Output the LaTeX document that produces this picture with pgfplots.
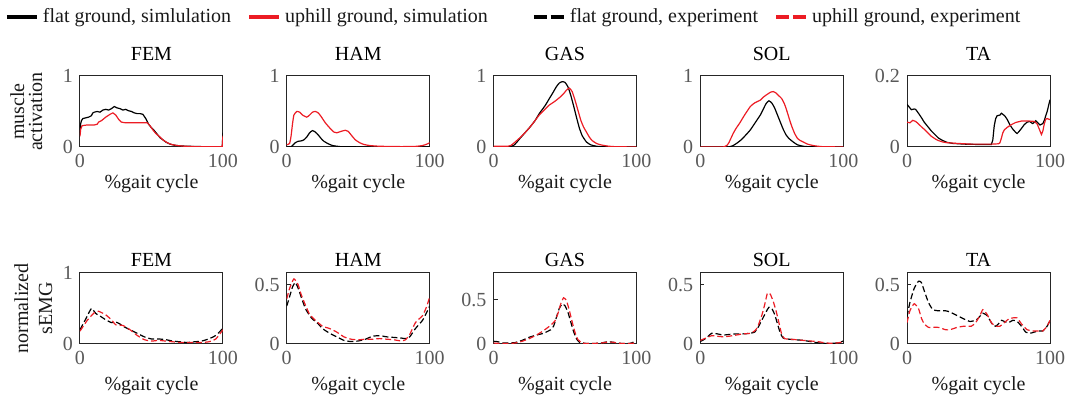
\documentclass[border=0pt]{standalone}
\usepackage{fontspec}
\setmainfont{Liberation Serif}
\usepackage{pgfplots}
\pgfplotsset{compat=1.18}
\usepgfplotslibrary{groupplots}
\definecolor{myred}{RGB}{236,28,36}

\pgfplotsset{
  gait/.style={
    width=71.5pt, height=35.5pt, scale only axis,
    xmin=0, xmax=100, ymin=0, xtick={0,100},
    tick align=inside, tick pos=left, major tick length=2pt,
    axis line style={black!85, line width=0.5pt},
    major tick style={black!85, line width=0.5pt},
    /pgf/number format/assume math mode=true,
    ticklabel style={font=\rmfamily, text=black!65},
    label style={text=black!90},
    title style={text=black},
    xlabel={\%gait cycle},
  },
  % the default title style already shifts up by 6pt
  row1/.style={
    title style={at={(0.5,1)}, anchor=base, yshift=1.6pt},
    xlabel style={at={(0.5,-0.58)}, anchor=base},
    ylabel style={at={(-0.26,0.5)}, anchor=south, inner sep=0pt, align=center},
  },
  row2/.style={
    title style={at={(0.5,1)}, anchor=base, yshift=-2.7pt},
    xlabel style={at={(0.5,-0.66)}, anchor=base},
    ylabel style={at={(-0.19,0.5)}, anchor=south, inner sep=0pt, align=center},
  },
  sim/.style={line width=0.6pt},
  expd/.style={line width=0.6pt, dash pattern=on 3pt off 1.5pt},
}

\begin{document}
\begin{tikzpicture}
\begin{groupplot}[
  group style={group size=5 by 2, horizontal sep=31.9pt, vertical sep=63pt},
  gait,
]
% ---------- row 1: simulated muscle activation ----------
\nextgroupplot[row1, title={FEM}, ymax=1, ytick={0,1},
  ylabel={muscle\\[-3pt]activation},
  legend columns=4,
  legend style={at={(-0.525,1.831)}, anchor=west, draw=none, fill=none,
    inner sep=0pt, outer sep=0pt, text=black!90,
    /tikz/every even column/.append style={column sep=6pt}},
  legend image code/.code={\draw[#1, line width=2pt] (0pt,0pt) -- (15pt,0pt);},
]
\addlegendimage{black, solid}
\addlegendimage{myred, solid}
\addlegendimage{black, dash pattern=on 6.6pt off 1.8pt}
\addlegendimage{myred, dash pattern=on 6.6pt off 1.8pt}
\legend{{flat ground, simlulation}, {uphill ground, simulation\hspace{14pt}\mbox{}}, {flat ground, experiment}, {uphill ground, experiment}}
\addplot[sim, black] coordinates {(0,0.2)(0.5,0.33)(1,0.37)(2,0.4)(4,0.41)(6,0.42)(8,0.44)(9,0.48)(10,0.49)(12,0.5)(14,0.49)(16,0.52)(18,0.53)(20,0.52)(22,0.54)(24,0.57)(26,0.55)(28,0.54)(30,0.52)(32,0.53)(34,0.51)(36,0.5)(38,0.48)(40,0.47)(42,0.47)(44,0.46)(46,0.4)(48,0.32)(50,0.27)(52,0.23)(54,0.18)(56,0.13)(58,0.1)(60,0.07)(63,0.04)(66,0.025)(70,0.015)(75,0.01)(85,0.005)(99.5,0.005)(100,0.2)};
\addplot[sim, myred] coordinates {(0,0.15)(0.5,0.25)(1.5,0.3)(5,0.31)(10,0.31)(12,0.32)(13,0.35)(15,0.37)(18,0.42)(21,0.46)(23,0.48)(25,0.45)(27,0.39)(29,0.35)(32,0.34)(40,0.34)(47,0.34)(49,0.3)(51,0.24)(53,0.19)(56,0.14)(58,0.1)(61,0.06)(64,0.035)(68,0.02)(73,0.01)(80,0.005)(99.5,0.005)(100,0.16)};

\nextgroupplot[row1, title={HAM}, ymax=1, ytick={0,1}]
\addplot[sim, black, smooth, tension=0.3] coordinates {(0,0)(3,0)(4,0.02)(6,0.06)(8,0.08)(10,0.085)(12,0.1)(14,0.14)(16,0.2)(18,0.23)(20,0.21)(22,0.17)(24,0.12)(26,0.08)(29,0.045)(32,0.02)(36,0.008)(42,0.002)(100,0)};
\addplot[sim, myred, smooth, tension=0.3] coordinates {(0,0.03)(2,0.05)(3,0.15)(4,0.32)(5,0.45)(7,0.5)(9,0.49)(11,0.45)(14,0.42)(16,0.45)(18,0.49)(20,0.5)(22,0.48)(24,0.43)(27,0.34)(30,0.27)(33,0.21)(35,0.2)(38,0.22)(41,0.235)(43,0.22)(45,0.17)(48,0.1)(51,0.06)(54,0.035)(58,0.02)(65,0.01)(80,0.005)(90,0.008)(95,0.02)(98,0.04)(100,0.06)};

\nextgroupplot[row1, title={GAS}, ymax=1, ytick={0,1}]
\addplot[sim, black, smooth, tension=0.3] coordinates {(0,0)(8,0)(11,0.005)(14,0.02)(16,0.06)(18.5,0.12)(22,0.2)(25.5,0.28)(29,0.37)(32,0.47)(36,0.58)(39,0.68)(42,0.78)(44,0.85)(46,0.9)(48,0.92)(50,0.91)(52,0.85)(54,0.73)(56,0.58)(58,0.42)(60,0.27)(62,0.16)(65,0.07)(68,0.03)(72,0.01)(78,0.002)(100,0)};
\addplot[sim, myred, smooth, tension=0.3] coordinates {(0,0.01)(5,0.01)(10,0.01)(12,0.02)(14,0.05)(18.5,0.13)(22,0.2)(25.5,0.28)(29,0.37)(32,0.45)(36,0.53)(39,0.59)(42,0.63)(44,0.66)(47,0.71)(49,0.75)(51,0.8)(53,0.83)(55,0.78)(57,0.66)(59,0.52)(61,0.38)(63,0.28)(65,0.21)(67,0.14)(69,0.09)(72,0.05)(75,0.03)(80,0.012)(85,0.004)(100,0)};

\nextgroupplot[row1, title={SOL}, ymax=1, ytick={0,1}]
\addplot[sim, black, smooth, tension=0.3] coordinates {(0,0)(19,0)(21,0.005)(23,0.02)(25,0.045)(28,0.09)(31,0.15)(35,0.24)(39,0.36)(42,0.45)(44,0.53)(46,0.61)(48,0.65)(50,0.62)(52,0.55)(54,0.45)(56,0.35)(58,0.25)(60,0.17)(62,0.12)(65,0.07)(68,0.03)(72,0.01)(78,0.002)(100,0)};
\addplot[sim, myred, smooth, tension=0.3] coordinates {(0,0)(15,0)(17,0.005)(18.5,0.02)(20,0.06)(23,0.19)(25,0.26)(28,0.35)(31,0.45)(35,0.57)(38,0.62)(42,0.66)(44,0.7)(46,0.73)(49,0.77)(51,0.78)(53,0.76)(55,0.72)(57,0.68)(59,0.6)(61,0.48)(62.5,0.38)(64,0.29)(66,0.19)(68,0.12)(70,0.09)(72,0.07)(75,0.04)(79,0.02)(85,0.005)(100,0)};

\nextgroupplot[row1, title={TA}, ymax=0.2, ytick={0,0.2}]
\addplot[sim, black] coordinates {(0,0.12)(1,0.115)(2,0.11)(3,0.105)(5,0.107)(6,0.106)(8,0.095)(10,0.083)(12,0.07)(14,0.06)(17,0.045)(20,0.033)(22,0.025)(25,0.018)(28,0.013)(32,0.01)(40,0.008)(50,0.007)(59,0.007)(60,0.02)(61,0.06)(62,0.08)(63,0.088)(65,0.09)(66,0.095)(67,0.092)(68.5,0.087)(70,0.078)(72,0.062)(74,0.05)(76,0.041)(77,0.038)(78,0.042)(80,0.052)(82,0.063)(84,0.07)(86,0.072)(87,0.068)(88,0.066)(90,0.074)(91,0.07)(93,0.062)(95,0.066)(96,0.075)(98,0.1)(100,0.133)};
\addplot[sim, myred] coordinates {(0,0.07)(2,0.068)(4,0.075)(6,0.072)(8,0.065)(10,0.057)(12,0.05)(15,0.038)(17,0.03)(20,0.022)(22,0.018)(25,0.014)(28,0.012)(35,0.01)(45,0.008)(60,0.008)(64,0.009)(65,0.012)(66,0.025)(67,0.04)(68,0.048)(70,0.055)(73,0.063)(76,0.069)(80,0.073)(85,0.073)(89,0.072)(91,0.065)(92,0.055)(93,0.045)(94,0.035)(95,0.045)(96,0.065)(97,0.078)(98,0.08)(100,0.077)};

% ---------- row 2: normalized sEMG ----------
\nextgroupplot[row2, title={FEM}, ymax=1, ytick={0,1},
  ylabel={normalized\\sEMG}]
\addplot[expd, black, smooth, tension=0.3] coordinates {(0,0.2)(4,0.35)(8,0.5)(11,0.43)(15,0.38)(18,0.34)(22,0.3)(25,0.31)(28,0.28)(30,0.25)(35,0.2)(40,0.15)(45,0.1)(50,0.07)(55,0.07)(60,0.06)(65,0.04)(70,0.03)(75,0.02)(80,0.03)(85,0.04)(90,0.07)(95,0.12)(100,0.22)};
\addplot[expd, myred, smooth, tension=0.3] coordinates {(0,0.18)(5,0.33)(10,0.44)(13,0.46)(18,0.41)(22,0.34)(25,0.27)(30,0.26)(35,0.2)(40,0.12)(45,0.06)(50,0.04)(55,0.05)(60,0.04)(65,0.03)(70,0.02)(75,0.02)(80,0.02)(85,0.02)(90,0.03)(95,0.07)(100,0.2)};

\nextgroupplot[row2, title={HAM}, ymax=0.6, ytick={0,0.5}]
\addplot[expd, black, smooth, tension=0.3] coordinates {(0,0.32)(2,0.4)(4,0.48)(6,0.52)(8,0.47)(10,0.4)(13,0.3)(16,0.24)(18,0.21)(22,0.17)(25,0.13)(30,0.09)(35,0.06)(40,0.03)(45,0.02)(50,0.025)(55,0.04)(60,0.065)(65,0.07)(70,0.06)(75,0.055)(80,0.05)(83,0.045)(86,0.06)(90,0.13)(95,0.2)(98,0.27)(100,0.32)};
\addplot[expd, myred, smooth, tension=0.3] coordinates {(0,0.38)(2,0.47)(5,0.55)(8,0.5)(10,0.42)(13,0.33)(16,0.25)(20,0.2)(25,0.15)(30,0.13)(35,0.1)(40,0.06)(45,0.04)(50,0.035)(55,0.04)(60,0.04)(65,0.045)(70,0.04)(75,0.035)(80,0.025)(83,0.035)(86,0.08)(90,0.18)(95,0.24)(98,0.32)(100,0.4)};

\nextgroupplot[row2, title={GAS}, ymax=0.8, ytick={0,0.5}]
\addplot[expd, black, smooth, tension=0.3] coordinates {(0,0.03)(3,0.025)(6,0.01)(10,0.01)(15,0.015)(20,0.04)(25,0.075)(30,0.1)(35,0.12)(40,0.16)(42,0.2)(44,0.3)(46,0.4)(48,0.45)(50,0.43)(52,0.36)(54,0.25)(56,0.14)(58,0.06)(60,0.02)(65,0.005)(70,0.005)(75,0.01)(80,0.025)(83,0.02)(87,0.01)(90,0.005)(95,0.005)(98,0.02)(100,0.03)};
\addplot[expd, myred, smooth, tension=0.3] coordinates {(0,0.01)(5,0.005)(10,0.005)(15,0.01)(20,0.03)(25,0.06)(30,0.1)(35,0.15)(40,0.21)(43,0.26)(45,0.34)(47,0.45)(49,0.52)(51,0.49)(53,0.38)(55,0.25)(57,0.13)(59,0.05)(62,0.01)(65,0.005)(70,0.005)(75,0.01)(80,0.02)(83,0.02)(87,0.01)(90,0.005)(95,0.005)(100,0.01)};

\nextgroupplot[row2, title={SOL}, ymax=0.6, ytick={0,0.5}]
\addplot[expd, black, smooth, tension=0.3] coordinates {(0,0.02)(3,0.04)(6,0.07)(8,0.09)(12,0.085)(16,0.075)(20,0.08)(25,0.085)(30,0.085)(35,0.09)(38,0.1)(40,0.13)(43,0.2)(46,0.27)(48,0.31)(50,0.3)(52,0.25)(54,0.17)(56,0.09)(58,0.05)(62,0.04)(67,0.035)(72,0.03)(77,0.02)(82,0.01)(87,0.005)(92,0.005)(97,0.01)(100,0.025)};
\addplot[expd, myred, smooth, tension=0.3] coordinates {(0,0.03)(4,0.05)(8,0.07)(12,0.065)(16,0.06)(20,0.065)(25,0.075)(30,0.085)(35,0.09)(38,0.11)(40,0.14)(43,0.24)(45,0.33)(47,0.43)(49,0.42)(51,0.36)(53,0.28)(55,0.18)(57,0.08)(59,0.045)(63,0.04)(68,0.035)(72,0.03)(77,0.025)(82,0.02)(87,0.01)(92,0.005)(97,0.01)(100,0.02)};

\nextgroupplot[row2, title={TA}, ymax=0.6, ytick={0,0.5}]
\addplot[expd, black, smooth, tension=0.3] coordinates {(0,0.23)(2,0.35)(5,0.47)(8,0.53)(10,0.52)(12,0.45)(15,0.35)(18,0.29)(22,0.28)(27,0.28)(30,0.27)(35,0.24)(40,0.21)(44,0.19)(48,0.2)(50,0.22)(53,0.26)(56,0.24)(58,0.2)(60,0.16)(62,0.15)(64,0.17)(66,0.2)(68,0.19)(71,0.18)(74,0.2)(77,0.19)(80,0.15)(83,0.1)(86,0.09)(89,0.1)(92,0.11)(95,0.11)(98,0.15)(100,0.2)};
\addplot[expd, myred, smooth, tension=0.3] coordinates {(0,0.18)(2,0.28)(5,0.34)(8,0.3)(10,0.22)(12,0.17)(15,0.14)(18,0.14)(22,0.14)(27,0.12)(30,0.12)(35,0.14)(40,0.15)(45,0.15)(48,0.18)(51,0.24)(53,0.29)(56,0.25)(59,0.18)(62,0.15)(65,0.15)(68,0.18)(71,0.21)(74,0.22)(77,0.22)(80,0.17)(84,0.12)(88,0.11)(92,0.11)(95,0.11)(98,0.15)(100,0.2)};
\end{groupplot}
\pgfresetboundingbox
\path ([xshift=-40pt,yshift=38pt]group c1r1.north west) rectangle ([xshift=9.5pt,yshift=-29pt]group c5r2.south east);
\end{tikzpicture}
\end{document}
